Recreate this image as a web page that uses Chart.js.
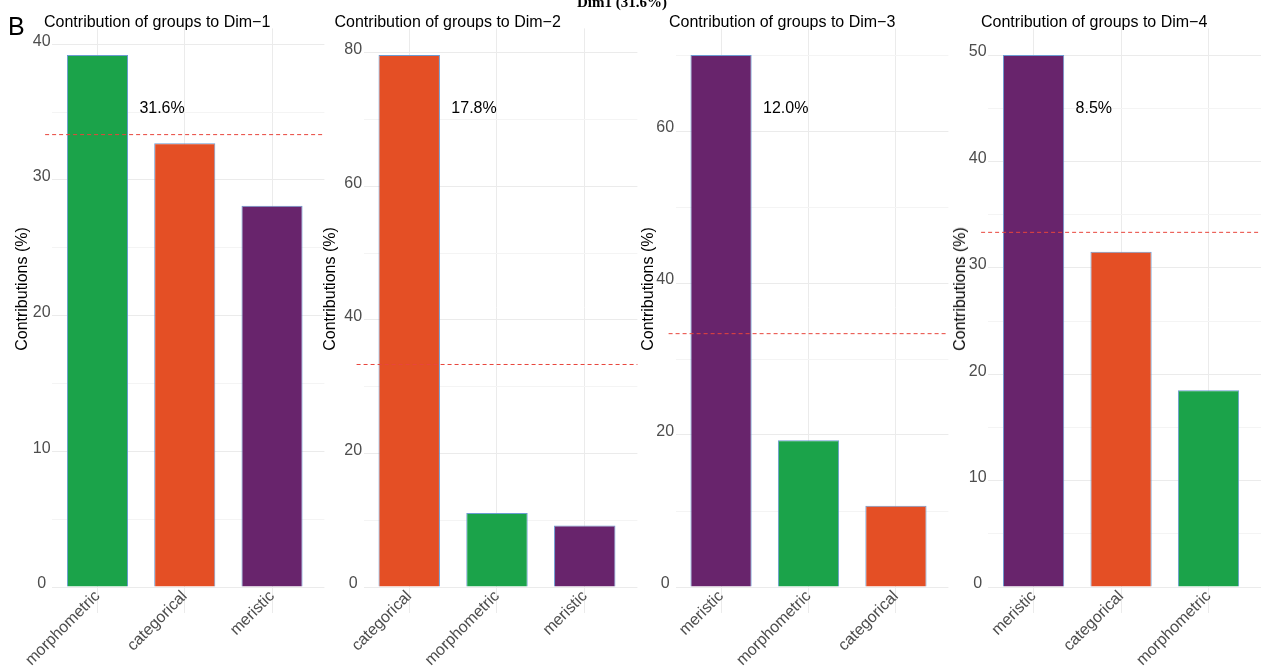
<!DOCTYPE html>
<html>
<head>
<meta charset="utf-8">
<script src="https://cdn.jsdelivr.net/npm/chart.js@4/dist/chart.umd.min.js"></script>
<style>
  html, body { margin: 0; padding: 0; background: #fff; }
  #wrap { position: relative; width: 1261px; height: 671px; overflow: hidden;
          font-family: "Liberation Sans", Arial, sans-serif; background: #fff; }
  #wrap canvas { position: absolute; left: 0; top: 0; }
  .txt { position: absolute; white-space: nowrap; color: #000; line-height: 1; }
  .ytitle { position: absolute; white-space: nowrap; color: #000; font-size: 16px; line-height: 1;
            transform: translate(-50%, -50%) rotate(-90deg); }
</style>
</head>
<body>
<div id="wrap"></div>
<script>
// ---- data -------------------------------------------------------------
const dim1Groups = ['morphometric', 'categorical', 'meristic'];
const dim1Values = [39.2, 32.7, 28.1];

const dim2Groups = ['categorical', 'morphometric', 'meristic'];
const dim2Values = [79.7, 11.1, 9.2];

const dim3Groups = ['meristic', 'morphometric', 'categorical'];
const dim3Values = [70.0, 19.3, 10.7];

const dim4Groups = ['meristic', 'categorical', 'morphometric'];
const dim4Values = [50.0, 31.5, 18.5];

const dimTitles = [
  'Contribution of groups to Dim\u22121',
  'Contribution of groups to Dim\u22122',
  'Contribution of groups to Dim\u22123',
  'Contribution of groups to Dim\u22124'
];
const dimVariance = ['31.6%', '17.8%', '12.0%', '8.5%'];
const yTickSteps = [10, 20, 20, 10];
const groupCount = 3;
const expectedShare = 100 / groupCount;   // dashed line: equal share of every group

const groupColors = {
  morphometric: '#1ba34a',
  categorical:  '#e44f25',
  meristic:     '#68246c'
};

// ---- layout -------------------------------------------------------------
const W = 1261, H = 671;
const PLOT_TOP = 28.4, ZERO_Y = 587, Y_AXIS_W = 30;
const X_MIN = -0.52, X_MAX = groupCount - 1 + 0.6, PANEL_START = -0.6;
const panels = [
  { groups: dim1Groups, values: dim1Values, left: 52.1,  right: 324.4, titleX: 44,    yTitleX: 22 },
  { groups: dim2Groups, values: dim2Values, left: 363.6, right: 637.4, titleX: 334.5, yTitleX: 330 },
  { groups: dim3Groups, values: dim3Values, left: 675.6, right: 948.4, titleX: 669,   yTitleX: 648 },
  { groups: dim4Groups, values: dim4Values, left: 988.1, right: 1261,  titleX: 981,   yTitleX: 960 }
];

const FONT = "'Liberation Sans', Arial, sans-serif";
Chart.defaults.font.family = FONT;

const wrap = document.getElementById('wrap');

function addText(cls, text, css) {
  const d = document.createElement('div');
  d.className = cls;
  d.textContent = text;
  Object.assign(d.style, css);
  wrap.appendChild(d);
}

// dashed reference line at the expected contribution
const expectedLine = {
  id: 'expectedLine',
  afterDatasetsDraw(chart) {
    const { ctx, chartArea: a, scales: { x, y } } = chart;
    const py = y.getPixelForValue(expectedShare);
    ctx.save();
    ctx.strokeStyle = '#e8453c';
    ctx.lineWidth = 1;
    ctx.setLineDash([4, 3]);
    ctx.beginPath();
    ctx.moveTo(x.getPixelForValue(PANEL_START), py);
    ctx.lineTo(a.right, py);
    ctx.stroke();
    ctx.restore();
  }
};

// variance explained by the dimension, written beside the first bar
const varianceLabel = {
  id: 'varianceLabel',
  afterDatasetsDraw(chart, args, opts) {
    const { ctx, scales: { x, y } } = chart;
    ctx.save();
    ctx.fillStyle = '#000';
    ctx.font = '16px ' + FONT;
    ctx.textAlign = 'left';
    ctx.textBaseline = 'middle';
    ctx.fillText(opts.text, x.getPixelForValue(0.48), y.getPixelForValue(opts.at));
    ctx.restore();
  }
};

panels.forEach((p, k) => {
  const canvas = document.createElement('canvas');
  canvas.width = W; canvas.height = H;
  canvas.style.width = W + 'px'; canvas.style.height = H + 'px';
  wrap.appendChild(canvas);

  const vmax = Math.max(...p.values);
  const step = yTickSteps[k];

  new Chart(canvas, {
    type: 'bar',
    data: {
      datasets: [{
        data: p.groups.map((g, i) => ({ x: i, y: p.values[i] })),
        backgroundColor: p.groups.map(g => groupColors[g]),
        borderColor: '#6c9bd2',
        borderWidth: 1,
        barPercentage: 0.7,
        categoryPercentage: 1
      }]
    },
    options: {
      responsive: false,
      animation: false,
      events: [],
      layout: { padding: { left: p.left - Y_AXIS_W, right: W - p.right, top: PLOT_TOP, bottom: 0 } },
      plugins: {
        legend: { display: false },
        tooltip: { enabled: false },
        varianceLabel: { text: dimVariance[k], at: 0.9 * vmax }
      },
      scales: {
        x: {
          type: 'linear',
          min: X_MIN,
          max: X_MAX,
          offset: false,
          border: { display: false },
          grid: { offset: false, color: '#ebebeb', lineWidth: 1, drawTicks: true, tickLength: 26 },
          afterFit: s => { s.height = H - ZERO_Y; },
          ticks: {
            stepSize: 1,
            includeBounds: false,
            autoSkip: false,
            minRotation: 45,
            maxRotation: 45,
            padding: -26,
            labelOffset: 0,
            color: '#4d4d4d',
            font: { size: 16 },
            callback: v => (p.groups[v] !== undefined ? p.groups[v] : '')
          }
        },
        y: {
          min: 0,
          max: 1.05 * vmax,
          border: { display: false },
          grid: {
            drawTicks: false,
            lineWidth: 1,
            color: c => (c.tick && Math.abs(c.tick.value % step) < 1e-9 ? '#ebebeb' : '#f4f4f4')
          },
          afterFit: s => { s.width = Y_AXIS_W; },
          ticks: {
            stepSize: step / 2,
            includeBounds: false,
            maxTicksLimit: 30,
            crossAlign: 'center',
            padding: 1.5,
            labelOffset: -3,
            color: '#4d4d4d',
            font: { size: 16 },
            callback: v => (Math.abs(v % step) < 1e-9 ? String(v) : '')
          }
        }
      }
    },
    plugins: [expectedLine, varianceLabel]
  });

  addText('txt', dimTitles[k], { left: p.titleX + 'px', top: '14px', fontSize: '16px' });
  addText('ytitle', 'Contributions (%)', { left: p.yTitleX + 'px', top: '289px' });
});

addText('txt', 'B', { left: '8px', top: '13.8px', fontSize: '25px' });
addText('txt', 'Dim1 (31.6%)', { left: '577px', top: '-4.6px', fontSize: '15px', fontWeight: 'bold',
                                  fontFamily: "'Liberation Serif', 'Times New Roman', serif" });
</script>
</body>
</html>
